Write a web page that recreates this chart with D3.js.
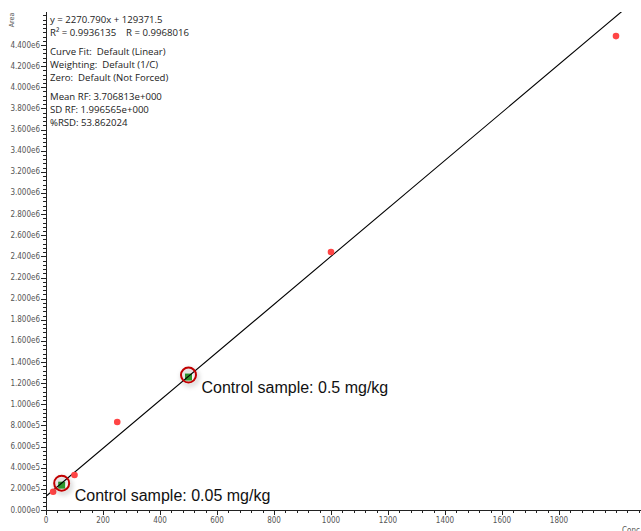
<!DOCTYPE html>
<html><head><meta charset="utf-8">
<script src="https://cdn.jsdelivr.net/npm/d3@7/dist/d3.min.js"></script>
<style>body{margin:0;background:#fff}svg{display:block}</style>
</head><body>
<script>
// data
const stdConc = [25, 100, 250, 1000, 2000];
const stdArea = [173000, 331000, 833000, 2441000, 4484000];
const ctrlConc = [55, 500];
const ctrlArea = [235000, 1258000];
const ctrlLabels = ["Control sample: 0.05 mg/kg", "Control sample: 0.5 mg/kg"];
const slope = 2270.790, intercept = 129371.5;
const xTicks = [0, 200, 400, 600, 800, 1000, 1200, 1400, 1600, 1800];
const yTicks = [0, 200000, 400000, 600000, 800000, 1000000, 1200000, 1400000, 1600000, 1800000, 2000000,
  2200000, 2400000, 2600000, 2800000, 3000000, 3200000, 3400000, 3600000, 3800000, 4000000, 4200000, 4400000];
const yTickLabels = ["0.000e0","2.000e5","4.000e5","6.000e5","8.000e5","1.000e6","1.200e6","1.400e6","1.600e6","1.800e6","2.000e6",
  "2.200e6","2.400e6","2.600e6","2.800e6","3.000e6","3.200e6","3.400e6","3.600e6","3.800e6","4.000e6","4.200e6","4.400e6"];
const infoLines = ["y = 2270.790x + 129371.5", "R\u00B2 = 0.9936135    R = 0.9968016", "Curve Fit:  Default (Linear)",
  "Weighting:  Default (1/C)", "Zero:  Default (Not Forced)", "Mean RF: 3.706813e+000", "SD RF: 1.996565e+000", "%RSD: 53.862024"];

const W = 641, H = 531;
const svg = d3.select("body").append("svg").attr("width", W).attr("height", H);
const x = d3.scaleLinear().domain([0, 1800]).range([46, 559]);
const y = d3.scaleLinear().domain([0, 4400000]).range([510, 45]);
const xMax = x.invert(641), yMax = y.invert(12);

const defs = svg.append("defs");
defs.append("clipPath").attr("id", "clip").append("rect").attr("x", 46).attr("y", 12).attr("width", 600).attr("height", 498);
const f = defs.append("filter").attr("id", "shadow").attr("x", "-100%").attr("y", "-100%").attr("width", "300%").attr("height", "300%");
f.append("feDropShadow").attr("dx", 1.5).attr("dy", 2.5).attr("stdDeviation", 2.5).attr("flood-color", "#000").attr("flood-opacity", 0.35);

const tickFont = "'Liberation Sans Narrow','DejaVu Sans Condensed',sans-serif";

// axes
const yMinor = d3.range(0, yMax, 40000);
svg.append("g").selectAll("line").data(yMinor).join("line")
  .attr("x1", 43).attr("x2", 46).attr("y1", d => Math.round(y(d)) + 0.5).attr("y2", d => Math.round(y(d)) + 0.5)
  .attr("stroke", "#222").attr("stroke-width", 1);
svg.append("g").selectAll("line").data(yTicks).join("line")
  .attr("x1", 41).attr("x2", 46).attr("y1", d => Math.round(y(d)) + 0.5).attr("y2", d => Math.round(y(d)) + 0.5)
  .attr("stroke", "#222");
svg.append("g").selectAll("text").data(yTicks).join("text")
  .attr("x", 40).attr("y", d => y(d) + 2.5).attr("text-anchor", "end")
  .attr("font-family", tickFont).attr("font-size", 8).attr("fill", "#555")
  .text((d, i) => yTickLabels[i]);
svg.append("line").attr("x1", 46.5).attr("x2", 46.5).attr("y1", 12).attr("y2", 511).attr("stroke", "#222");

const xMinor = d3.range(0, xMax, 40);
svg.append("g").selectAll("line").data(xMinor).join("line")
  .attr("x1", d => Math.round(x(d)) + 0.5).attr("x2", d => Math.round(x(d)) + 0.5).attr("y1", 510).attr("y2", 513)
  .attr("stroke", "#222");
svg.append("g").selectAll("line").data(xTicks).join("line")
  .attr("x1", d => Math.round(x(d)) + 0.5).attr("x2", d => Math.round(x(d)) + 0.5).attr("y1", 510).attr("y2", 515)
  .attr("stroke", "#222");
svg.append("g").selectAll("text").data(xTicks).join("text")
  .attr("x", d => x(d)).attr("y", 523).attr("text-anchor", "middle")
  .attr("font-family", tickFont).attr("font-size", 8).attr("fill", "#555").text(d => d);
svg.append("line").attr("x1", 46).attr("x2", 641).attr("y1", 510.5).attr("y2", 510.5).attr("stroke", "#222");

svg.append("text").attr("transform", "translate(14,20) rotate(-90)").attr("text-anchor", "middle")
  .attr("font-family", tickFont).attr("font-size", 7).attr("fill", "#555").text("Area");
svg.append("text").attr("x", 622).attr("y", 533)
  .attr("font-family", tickFont).attr("font-size", 8).attr("fill", "#555").text("Conc");

// info text
const infoY = [23, 36, 55, 68, 81, 100, 113, 126];
svg.append("g").selectAll("text").data(infoLines).join("text")
  .attr("x", 50).attr("y", (d, i) => infoY[i]).attr("font-family", "'Open Sans',sans-serif").attr("font-size", 9.6)
  .attr("fill", "#222").attr("xml:space", "preserve").style("white-space", "pre").text(d => d);

// control points (under line)
const g = svg.append("g").attr("clip-path", "url(#clip)");
g.selectAll("rect.ctrl").data(ctrlConc).join("rect").attr("class", "ctrl")
  .attr("x", d => x(d) - 3.5).attr("y", (d, i) => y(ctrlArea[i]) - 3.5).attr("width", 7).attr("height", 7)
  .attr("fill", "#2e9a2e");

// regression line
g.append("line").attr("x1", x(0)).attr("y1", y(intercept))
  .attr("x2", x(xMax)).attr("y2", y(slope * xMax + intercept))
  .attr("stroke", "#000").attr("stroke-width", 1.1);

// standards
g.selectAll("circle.std").data(stdConc).join("circle").attr("class", "std")
  .attr("cx", d => x(d)).attr("cy", (d, i) => y(stdArea[i])).attr("r", 3.3).attr("fill", "#ff4545");

// annotation circles
svg.append("g").selectAll("circle").data(ctrlConc).join("circle")
  .attr("cx", d => x(d)).attr("cy", (d, i) => y(ctrlArea[i]) - 2).attr("r", 7.5)
  .attr("fill", "none").attr("stroke", "#c00000").attr("stroke-width", 2).attr("filter", "url(#shadow)");
svg.append("g").selectAll("text").data(ctrlConc).join("text")
  .attr("x", d => x(d) + 13).attr("y", (d, i) => y(ctrlArea[i]) + 15.5)
  .attr("font-family", "'Liberation Sans',Arial,sans-serif").attr("font-size", 16).attr("fill", "#111")
  .text((d, i) => ctrlLabels[i]);
</script>
</body></html>
